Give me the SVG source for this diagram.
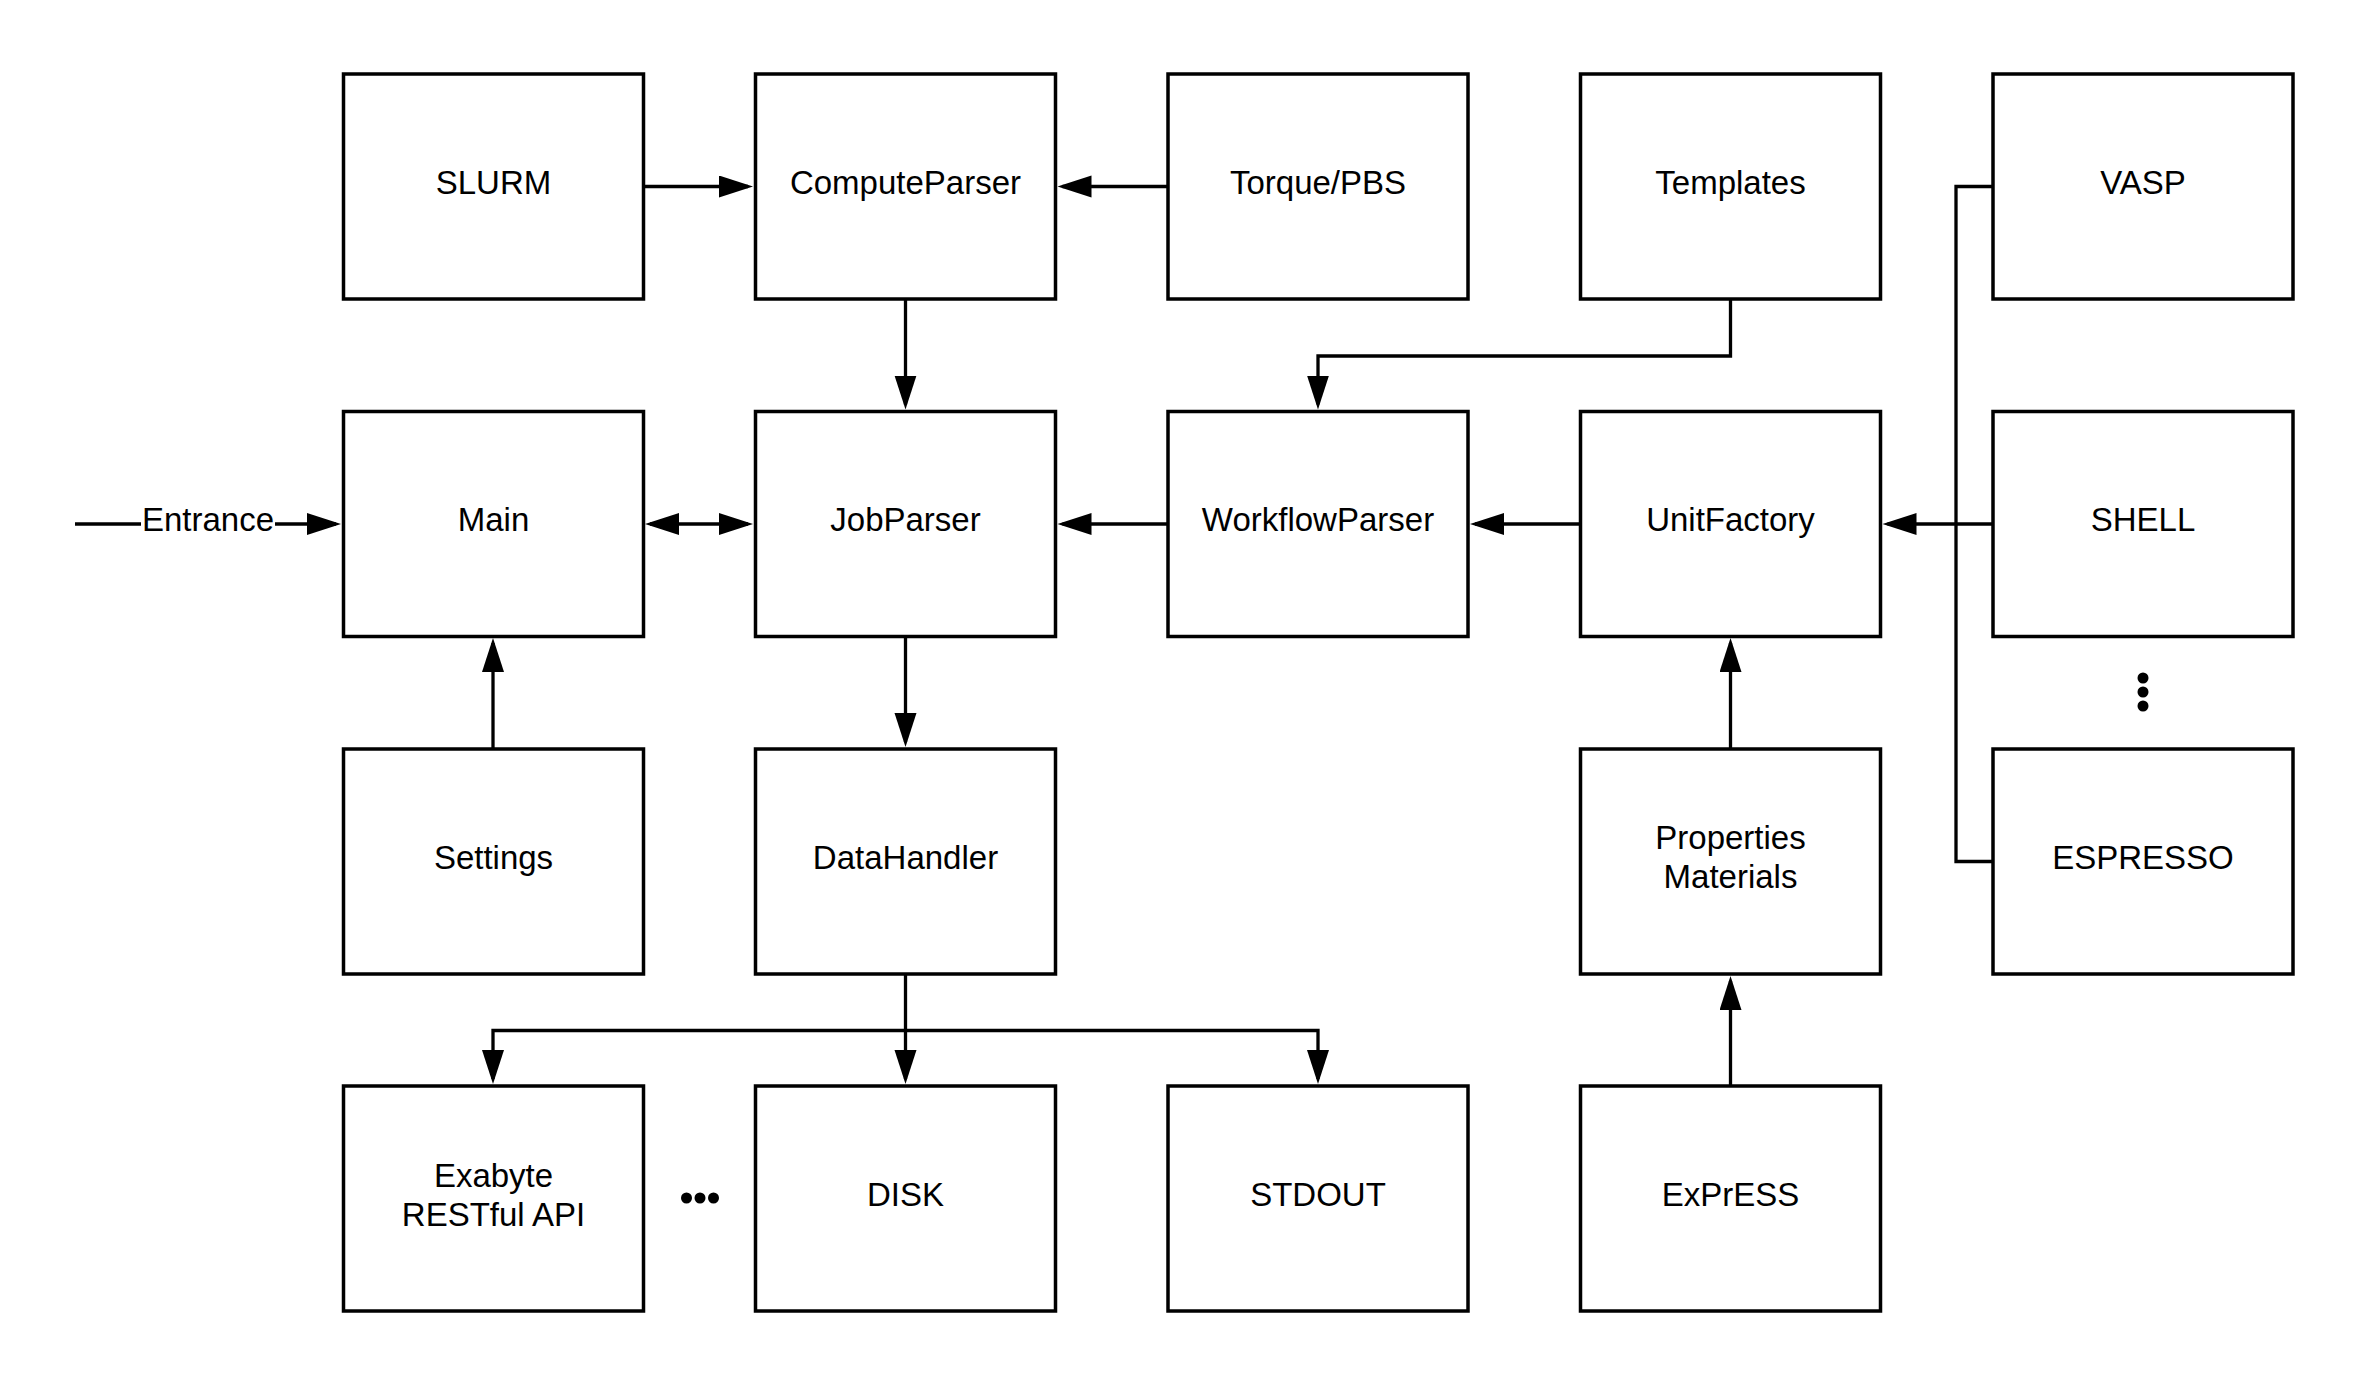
<svg xmlns="http://www.w3.org/2000/svg" width="2368" height="1388" viewBox="0 0 2368 1388">
<style>
.box{fill:#fff;stroke:#000;stroke-width:3.5}
.lbl{font-family:"Liberation Sans",Arial,sans-serif;font-size:33px;text-anchor:middle;fill:#000}
.con{fill:none;stroke:#000;stroke-width:3.3}
</style>
<defs>
<marker id="arr" markerUnits="userSpaceOnUse" markerWidth="36" markerHeight="24" refX="29" refY="11" orient="auto-start-reverse" viewBox="0 0 36 24">
<path d="M0,0 L34,11 L0,22 Z" fill="#000"/>
</marker>
</defs>
<rect width="2368" height="1388" fill="#fff"/>
<g id="connectors">
<path class="con" d="M643 186.5 H748" marker-end="url(#arr)"/>
<path class="con" d="M1168 186.5 H1062.5" marker-end="url(#arr)"/>
<path class="con" d="M905.5 299 V404.5" marker-end="url(#arr)"/>
<path class="con" d="M1730.5 299 V356 H1318 V404.5" marker-end="url(#arr)"/>
<path class="con" d="M75 524 H336" marker-end="url(#arr)"/>
<rect x="141" y="500" width="134" height="40" fill="#fff"/>
<text class="lbl" x="208" y="531">Entrance</text>
<path class="con" d="M650 524 H748" marker-start="url(#arr)" marker-end="url(#arr)"/>
<path class="con" d="M1168 524 H1062.5" marker-end="url(#arr)"/>
<path class="con" d="M1580.5 524 H1475" marker-end="url(#arr)"/>
<path class="con" d="M1993 524 H1887.5" marker-end="url(#arr)"/>
<path class="con" d="M1993 186.5 H1956 V861.5 H1993"/>
<path class="con" d="M493 749 V643" marker-end="url(#arr)"/>
<path class="con" d="M905.5 636 V742" marker-end="url(#arr)"/>
<path class="con" d="M905.5 974 V1079" marker-end="url(#arr)"/>
<path class="con" d="M905.5 1030.5 H493 V1079" marker-end="url(#arr)"/>
<path class="con" d="M905.5 1030.5 H1318 V1079" marker-end="url(#arr)"/>
<path class="con" d="M1730.5 749 V643" marker-end="url(#arr)"/>
<path class="con" d="M1730.5 1086 V981" marker-end="url(#arr)"/>
</g>
<g id="slurm"><rect class="box" x="343.5" y="74" width="300" height="225"/><text class="lbl" x="493.5" y="194">SLURM</text></g>
<g id="computeparser"><rect class="box" x="755.5" y="74" width="300" height="225"/><text class="lbl" x="905.5" y="194">ComputeParser</text></g>
<g id="torque"><rect class="box" x="1168" y="74" width="300" height="225"/><text class="lbl" x="1318" y="194">Torque/PBS</text></g>
<g id="templates"><rect class="box" x="1580.5" y="74" width="300" height="225"/><text class="lbl" x="1730.5" y="194">Templates</text></g>
<g id="vasp"><rect class="box" x="1993" y="74" width="300" height="225"/><text class="lbl" x="2143" y="194">VASP</text></g>
<g id="main"><rect class="box" x="343.5" y="411.5" width="300" height="225"/><text class="lbl" x="493.5" y="531">Main</text></g>
<g id="jobparser"><rect class="box" x="755.5" y="411.5" width="300" height="225"/><text class="lbl" x="905.5" y="531">JobParser</text></g>
<g id="workflowparser"><rect class="box" x="1168" y="411.5" width="300" height="225"/><text class="lbl" x="1318" y="531">WorkflowParser</text></g>
<g id="unitfactory"><rect class="box" x="1580.5" y="411.5" width="300" height="225"/><text class="lbl" x="1730.5" y="531">UnitFactory</text></g>
<g id="shell"><rect class="box" x="1993" y="411.5" width="300" height="225"/><text class="lbl" x="2143" y="531">SHELL</text></g>
<g id="vdots"><circle cx="2143" cy="678" r="5.5"/><circle cx="2143" cy="692" r="5.5"/><circle cx="2143" cy="706" r="5.5"/></g>
<g id="settings"><rect class="box" x="343.5" y="749" width="300" height="225"/><text class="lbl" x="493.5" y="868.5">Settings</text></g>
<g id="datahandler"><rect class="box" x="755.5" y="749" width="300" height="225"/><text class="lbl" x="905.5" y="868.5">DataHandler</text></g>
<g id="properties"><rect class="box" x="1580.5" y="749" width="300" height="225"/><text class="lbl" x="1730.5" y="849">Properties</text><text class="lbl" x="1730.5" y="888">Materials</text></g>
<g id="espresso"><rect class="box" x="1993" y="749" width="300" height="225"/><text class="lbl" x="2143" y="868.5">ESPRESSO</text></g>
<g id="exabyte"><rect class="box" x="343.5" y="1086" width="300" height="225"/><text class="lbl" x="493.5" y="1186.5">Exabyte</text><text class="lbl" x="493.5" y="1225.5">RESTful API</text></g>
<g id="hdots"><circle cx="686.5" cy="1198" r="5.5"/><circle cx="700" cy="1198" r="5.5"/><circle cx="713.5" cy="1198" r="5.5"/></g>
<g id="disk"><rect class="box" x="755.5" y="1086" width="300" height="225"/><text class="lbl" x="905.5" y="1205.5">DISK</text></g>
<g id="stdout"><rect class="box" x="1168" y="1086" width="300" height="225"/><text class="lbl" x="1318" y="1205.5">STDOUT</text></g>
<g id="express"><rect class="box" x="1580.5" y="1086" width="300" height="225"/><text class="lbl" x="1730.5" y="1205.5">ExPrESS</text></g>
</svg>
